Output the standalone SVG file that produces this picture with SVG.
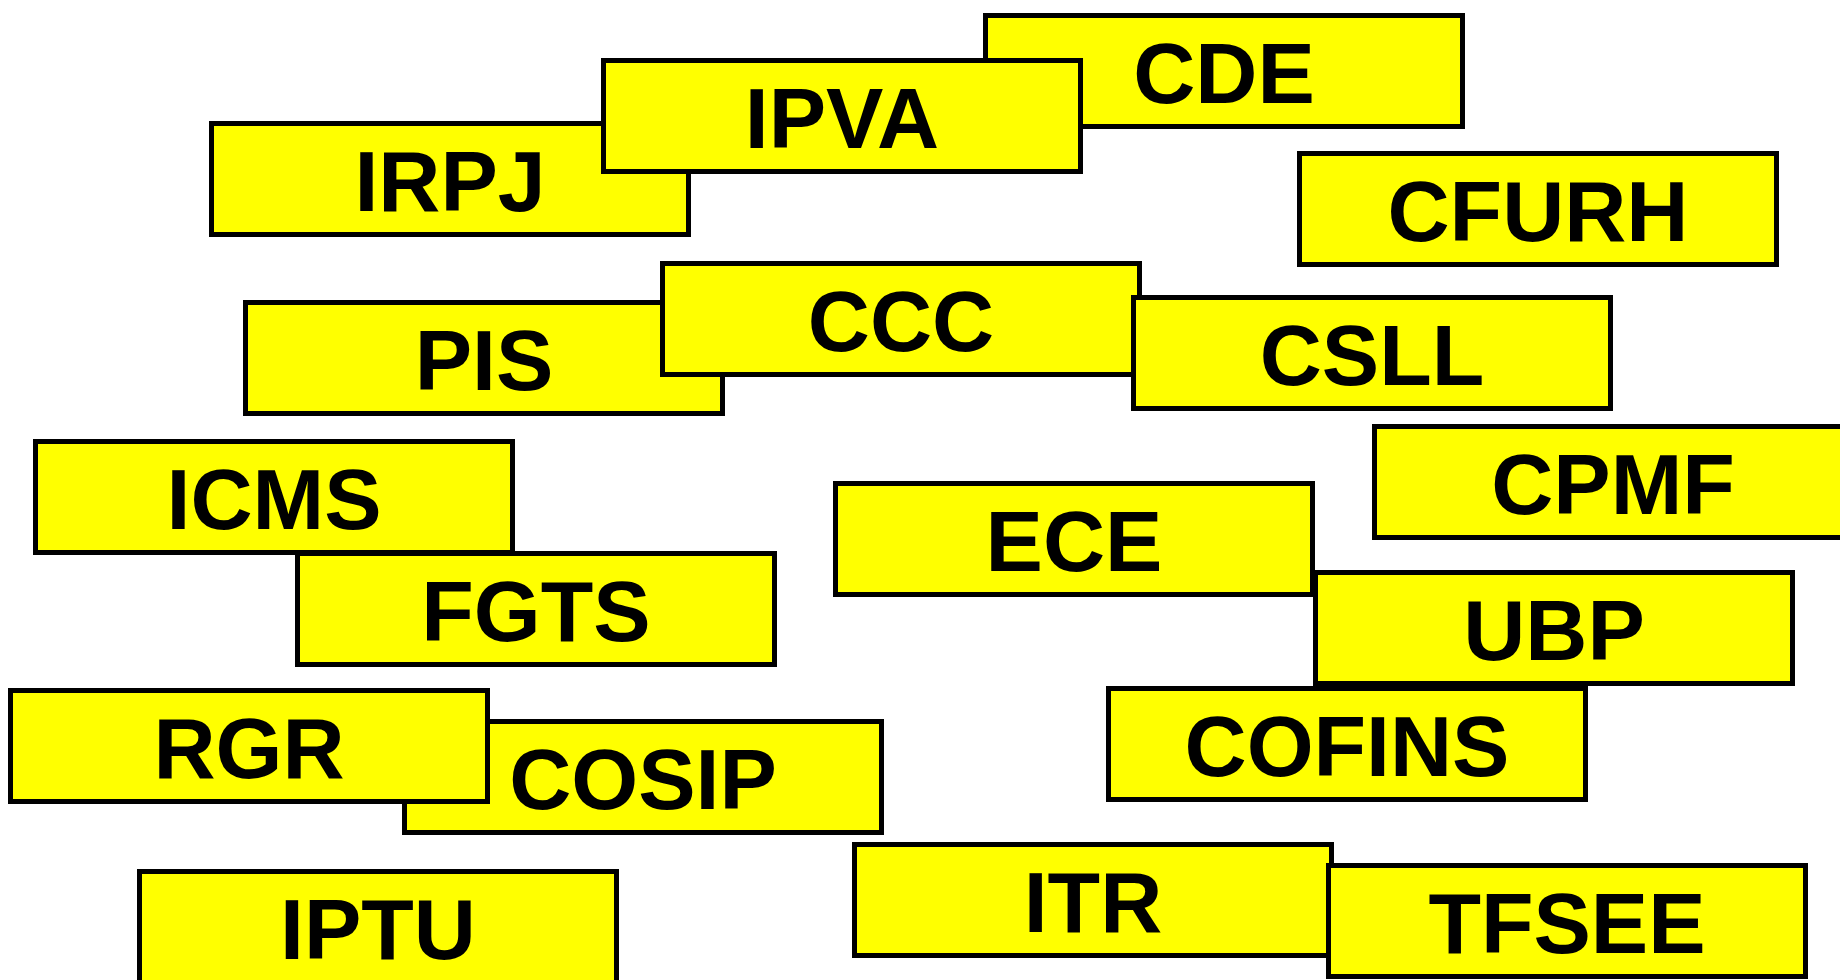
<svg xmlns="http://www.w3.org/2000/svg" width="1840" height="980" viewBox="0 0 1840 980">
<style>
.b{fill:#FFFF00;stroke:#000;stroke-width:5}
.t{font-family:"Liberation Sans",Arial,sans-serif;font-weight:bold;font-size:86px;fill:#000;text-anchor:middle}
</style>
<defs>
<rect id="box" class="b" x="2.5" y="2.5" width="477" height="111"/>
</defs>
<rect width="1840" height="980" fill="#fff"/>
<g id="connectors"/>
<g id="CDE" transform="translate(983,13)"><use href="#box"/><text class="t" x="241" y="90">CDE</text></g>
<g id="IRPJ" transform="translate(209,121)"><use href="#box"/><text class="t" x="241" y="90">IRPJ</text></g>
<g id="IPVA" transform="translate(601,58)"><use href="#box"/><text class="t" x="241" y="90">IPVA</text></g>
<g id="CFURH" transform="translate(1297,151)"><use href="#box"/><text class="t" x="241" y="90">CFURH</text></g>
<g id="PIS" transform="translate(243,300)"><use href="#box"/><text class="t" x="241" y="90">PIS</text></g>
<g id="CCC" transform="translate(660,261)"><use href="#box"/><text class="t" x="241" y="90">CCC</text></g>
<g id="CSLL" transform="translate(1131,295)"><use href="#box"/><text class="t" x="241" y="90">CSLL</text></g>
<g id="CPMF" transform="translate(1372,424)"><use href="#box"/><text class="t" x="241" y="90">CPMF</text></g>
<g id="ICMS" transform="translate(33,439)"><use href="#box"/><text class="t" x="241" y="90">ICMS</text></g>
<g id="FGTS" transform="translate(295,551)"><use href="#box"/><text class="t" x="241" y="90">FGTS</text></g>
<g id="ECE" transform="translate(833,481)"><use href="#box"/><text class="t" x="241" y="90">ECE</text></g>
<g id="UBP" transform="translate(1313,570)"><use href="#box"/><text class="t" x="241" y="90">UBP</text></g>
<g id="COFINS" transform="translate(1106,686)"><use href="#box"/><text class="t" x="241" y="90">COFINS</text></g>
<g id="COSIP" transform="translate(402,719)"><use href="#box"/><text class="t" x="241" y="90">COSIP</text></g>
<g id="RGR" transform="translate(8,688)"><use href="#box"/><text class="t" x="241" y="90">RGR</text></g>
<g id="ITR" transform="translate(852,842)"><use href="#box"/><text class="t" x="241" y="90">ITR</text></g>
<g id="TFSEE" transform="translate(1326,863)"><use href="#box"/><text class="t" x="241" y="90">TFSEE</text></g>
<g id="IPTU" transform="translate(137,869)"><use href="#box"/><text class="t" x="241" y="90">IPTU</text></g>
</svg>
